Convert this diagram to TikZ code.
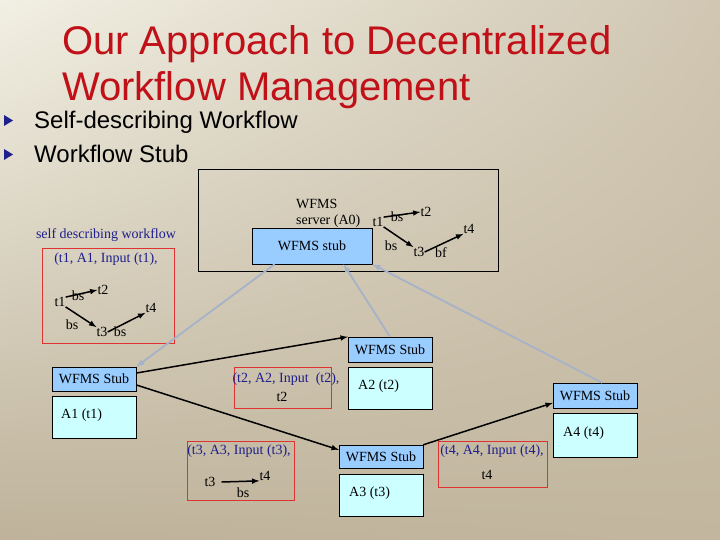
\documentclass[tikz,border=0pt]{standalone}
\usepackage{fontspec}
\setmainfont{Liberation Serif}
\newfontfamily\slidefont{Liberation Sans}
\usepackage[dvipsnames]{xcolor}
\usepackage{tikz}
\usetikzlibrary{shadings}

\definecolor{titlered}{RGB}{192,16,24}
\definecolor{navy}{RGB}{30,30,140}
\definecolor{stubblue}{RGB}{153,204,255}
\definecolor{hostcyan}{RGB}{204,255,255}
\definecolor{linkgray}{RGB}{165,178,200}
\definecolor{boxred}{RGB}{225,50,50}
\definecolor{bgul}{RGB}{242,240,228}
\definecolor{bgur}{RGB}{208,198,178}
\definecolor{bgll}{RGB}{190,178,154}
\definecolor{bglr}{RGB}{194,182,158}

\tikzset{
	stub/.style={draw, fill=stubblue, minimum width=84pt, minimum height=24pt, inner sep=0pt, font=\fontsize{14}{16}\selectfont},
	host/.style={draw, fill=hostcyan, minimum width=84pt, minimum height=42pt, inner sep=0pt},
	wfbox/.style={draw=boxred, line width=0.9pt, inner sep=0pt},
	lbl/.style={inner sep=0pt, font=\fontsize{14}{16}\selectfont},
	flow/.style={-latex, line width=1.5pt},
	link/.style={-latex, draw=linkgray, line width=1.8pt},
}

\begin{document}
\begin{tikzpicture}[x=1pt, y=-1pt]
				\useasboundingbox (0,0) rectangle (720,540);
				\shade[upper left=bgul, upper right=bgur, lower left=bgll, lower right=bglr] (0,0) rectangle (720,540);
				% title and bullets
				\node[anchor=base west, inner sep=0pt, text=titlered, font=\slidefont\fontsize{40}{48}\selectfont] (title1) at (62,55) {Our Approach to Decentralized};
				\node[anchor=base west, inner sep=0pt, text=titlered, font=\slidefont\fontsize{40}{48}\selectfont] (title2) at (62,101) {Workflow Management};
				\fill[navy] (4,115) -- (13,120.5) -- (4,126) -- cycle;
				\fill[navy] (4,149) -- (13,154.5) -- (4,160) -- cycle;
				\node[anchor=base west, inner sep=0pt, font=\slidefont\fontsize{24}{28}\selectfont] (item1) at (34,129) {Self-describing Workflow};
				\node[anchor=base west, inner sep=0pt, font=\slidefont\fontsize{24}{28}\selectfont] (item2) at (34,163) {Workflow Stub};
				% server A0
				\node[draw, minimum width=300pt, minimum height=102pt, inner sep=0pt] (server) at (348,220) {};
				\node[lbl, anchor=base west] (srvname) at (296,208) {WFMS};
				\node[lbl, anchor=base west] (srvhost) at (296,225) {server (A0)};
				\node[stub, minimum width=120pt, minimum height=36pt] (srvstub) at (312,246) {WFMS stub};
				\node[lbl] (s1) at (378,222) {t1};
				\node[lbl] (s2) at (426,212) {t2};
				\node[lbl] (s3) at (419,252) {t3};
				\node[lbl] (s4) at (469,229) {t4};
				\draw[flow] (s1.north east) -- (s2.west);
				\draw[flow] (s1.south east) -- (s3.north west);
				\draw[flow] (s3.east) -- (s4.south west);
				\node[lbl] (sbs1) at (397,217) {bs};
				\node[lbl] (sbs2) at (391,246) {bs};
				\node[lbl] (sbf) at (441,253) {bf};
				% self describing workflow
				\node[lbl, text=navy] (wfname) at (106,235) {self describing workflow};
				\node[wfbox, minimum width=132pt, minimum height=95pt] (wf1) at (108,295.5) {};
				\node[lbl, text=navy] (wf1text) at (106,259) {(t1, A1, Input (t1),};
				\node[lbl] (w1) at (60,302) {t1};
				\node[lbl] (w2) at (103,290) {t2};
				\node[lbl] (w3) at (102,332) {t3};
				\node[lbl] (w4) at (151,308) {t4};
				\draw[flow] (w1.north east) -- (w2.west);
				\draw[flow] (w1.south east) -- (w3.north west);
				\draw[flow] (w3.east) -- (w4.south west);
				\node[lbl] (wbs1) at (78,296) {bs};
				\node[lbl] (wbs2) at (72,325) {bs};
				\node[lbl] (wbs3) at (120,332) {bs};
				% hosts A1 to A4
				\node[stub] (a1s) at (94,379) {WFMS Stub};
				\node[host] (a1) at (94,417) {};
				\node[lbl, anchor=west] (a1text) at (61,415) {A1 (t1)};
				\node[stub, minimum height=25pt] (a2s) at (390,349.5) {WFMS Stub};
				\node[host] (a2) at (390,388) {};
				\node[lbl, anchor=west] (a2text) at (358,386) {A2 (t2)};
				\node[stub, minimum height=23pt] (a3s) at (381,456.5) {WFMS Stub};
				\node[host] (a3) at (381,495) {};
				\node[lbl, anchor=west] (a3text) at (349,493) {A3 (t3)};
				\node[stub, minimum height=25pt] (a4s) at (595,395.5) {WFMS Stub};
				\node[host, minimum height=44pt] (a4) at (595,435) {};
				\node[lbl, anchor=west] (a4text) at (563,433) {A4 (t4)};
				% workflow passed along
				\node[wfbox, minimum width=97pt, minimum height=41pt] (wf2) at (282.5,387.5) {};
				\node[lbl, text=navy] (wf2text) at (286,379) {(t2, A2, Input\ \ (t2),};
				\node[lbl] (wf2t2) at (282,397) {t2};
				\node[wfbox, minimum width=107pt, minimum height=59pt] (wf3) at (240.5,470.5) {};
				\node[lbl, text=navy] (wf3text) at (239,451) {(t3, A3, Input (t3),};
				\node[lbl] (b3) at (210,482) {t3};
				\node[lbl] (b4) at (265,476) {t4};
				\draw[flow] (b3.east) ++(6,0) -- (b4.south west);
				\node[lbl] (bbs) at (243,493) {bs};
				\node[wfbox, minimum width=109pt, minimum height=46pt] (wf4) at (492.5,464) {};
				\node[lbl, text=navy] (wf4text) at (492,451) {(t4, A4, Input (t4),};
				\node[lbl] (wf4t4) at (487,475) {t4};
				% connectors
				\draw[flow] (a1s.8) -- (a2s.north west);
				\draw[flow] (a1s.-8) -- (a3s.171);
				\draw[flow] (a3s.north east) -- (a4s.190);
				\draw[link] (srvstub.206) -- (a1s.north east);
				\draw[link] (a2s.north) -- (srvstub.-30);
				\draw[link] (a4s.60) -- (srvstub.south east);
\end{tikzpicture}
\end{document}
